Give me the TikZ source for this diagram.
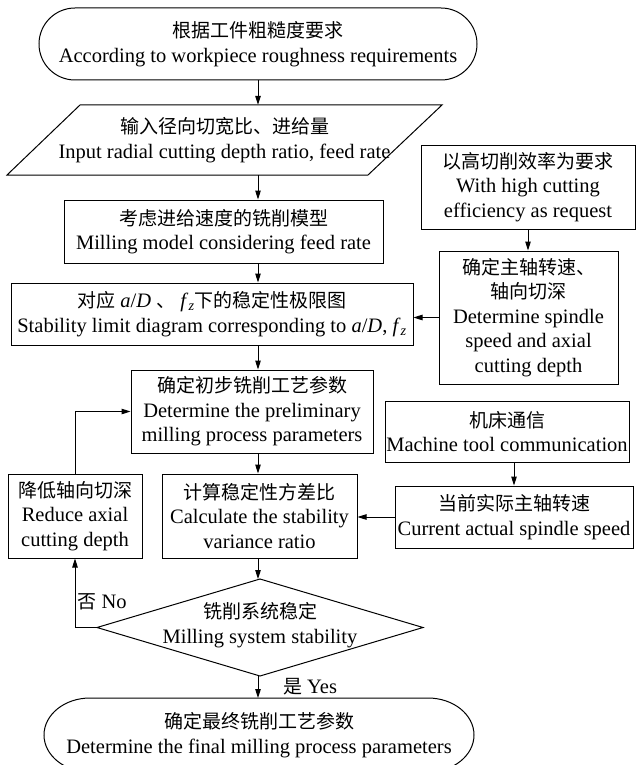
\documentclass[tikz,border=0pt]{standalone}
\usepackage{fontspec}
\setmainfont{Liberation Serif}
\newfontfamily\cjk{Noto Sans CJK SC}
\newcommand\zhtext[1]{{\cjk\fontsize{19}{24.5}\selectfont #1}}
\usetikzlibrary{arrows.meta}
\begin{document}
\begin{tikzpicture}[x=1pt,y=-1pt,
  every node/.style={font=\fontsize{20.5}{24.5}\selectfont, align=center, inner sep=0pt},
  sz/.style 2 args={minimum width=#1, minimum height=#2},
  box/.style={draw, line width=1pt},
  ln/.style={line width=1pt},
  arr/.style={line width=1pt, -{Triangle[length=9pt,width=5.5pt]}}]
\useasboundingbox (0,0) rectangle (636,765);
\coordinate (ax) at (258,0);

% main column
\node[box, sz={438}{72}, rounded corners=36pt] (term) at (258,44)
  {\zhtext{根据工件粗糙度要求}\\According to workpiece roughness requirements};
\node[sz={290}{70}] (input) at (224.5,140)
  {\zhtext{输入径向切宽比、进给量}\\Input radial cutting depth ratio, feed rate};
\draw[ln] (80,105) -- (442,105) -- (368,175) -- (7,175) -- cycle;
\node[box, sz={319}{63}] (model) at (223.5,231.5)
  {\zhtext{考虑进给速度的铣削模型}\\Milling model considering feed rate};
\node[box, sz={402}{62}] (limit) at (212,314)
  {\zhtext{对应} \textit{a}/\textit{D} \zhtext{、} \textit{f}\textsubscript{\textit{z}}\zhtext{下的稳定性极限图}\\Stability limit diagram corresponding to \textit{a}/\textit{D}, \textit{f}\textsubscript{\textit{z}}};
\node[box, sz={242}{83}] (prelim) at (252,411.5)
  {\zhtext{确定初步铣削工艺参数}\\Determine the preliminary\\milling process parameters};
\node[box, sz={195}{84}] (calc) at (259.5,516)
  {\zhtext{计算稳定性方差比}\\Calculate the stability\\variance ratio};
\node (dia) at (260,625)
  {\zhtext{铣削系统稳定}\\Milling system stability};
\coordinate (dt) at (260,579);
\coordinate (db) at (260,676);
\coordinate (dl) at (97,627.5);
\coordinate (dr) at (423,627.5);
\draw[ln] (dt) -- (dr) -- (db) -- (dl) -- cycle;
\node (final) at (259,735)
  {\zhtext{确定最终铣削工艺参数}\\Determine the final milling process parameters};
\draw[ln] (90,698) -- (428,698) arc[start angle=90,end angle=-90,x radius=46pt,y radius=37pt]
  -- (90,772) arc[start angle=270,end angle=90,x radius=46pt,y radius=37pt];
\coordinate (ft) at (258,698);

% left
\node[box, sz={134}{84}] (reduce) at (75,516)
  {\zhtext{降低轴向切深}\\Reduce axial\\cutting depth};

% right
\node[box, sz={214}{84}] (req) at (528,187)
  {\zhtext{以高切削效率为要求}\\With high cutting\\efficiency as request};
\node[box, sz={179}{133}] (det) at (528.5,317.5)
  {\zhtext{确定主轴转速、}\\\zhtext{轴向切深}\\Determine spindle\\speed and axial\\cutting depth};
\node[box, sz={244}{61}] (mach) at (507,431.5)
  {\zhtext{机床通信}\\Machine tool communication};
\node[box, sz={238}{62}] (cur) at (514,517)
  {\zhtext{当前实际主轴转速}\\Current actual spindle speed};

% labels
\node (lno) at (102,602) {\zhtext{否} No};
\node (lyes) at (310,687) {\zhtext{是} Yes};

% connectors
\draw[arr] (ax |- term.south) -- (ax |- input.north);
\draw[arr] (ax |- input.south) -- (ax |- model.north);
\draw[arr] (ax |- model.south) -- (ax |- limit.north);
\draw[arr] (ax |- limit.south) -- (ax |- prelim.north);
\draw[arr] (ax |- prelim.south) -- (ax |- calc.north);
\draw[arr] (ax |- calc.south) -- (ax |- dt);
\draw[arr] (ax |- db) -- (ft);
\draw[arr] (req.south) -- (req.south |- det.north);
\draw[arr] (det.west) -- (det.west -| limit.east);
\draw[arr] (mach.south -| cur.north) -- (cur.north);
\draw[arr] (cur.west) -- (cur.west -| calc.east);
\draw[arr] (dl) -| (reduce.south);
\draw[arr] (reduce.north) |- (prelim.west);
\end{tikzpicture}
\end{document}
